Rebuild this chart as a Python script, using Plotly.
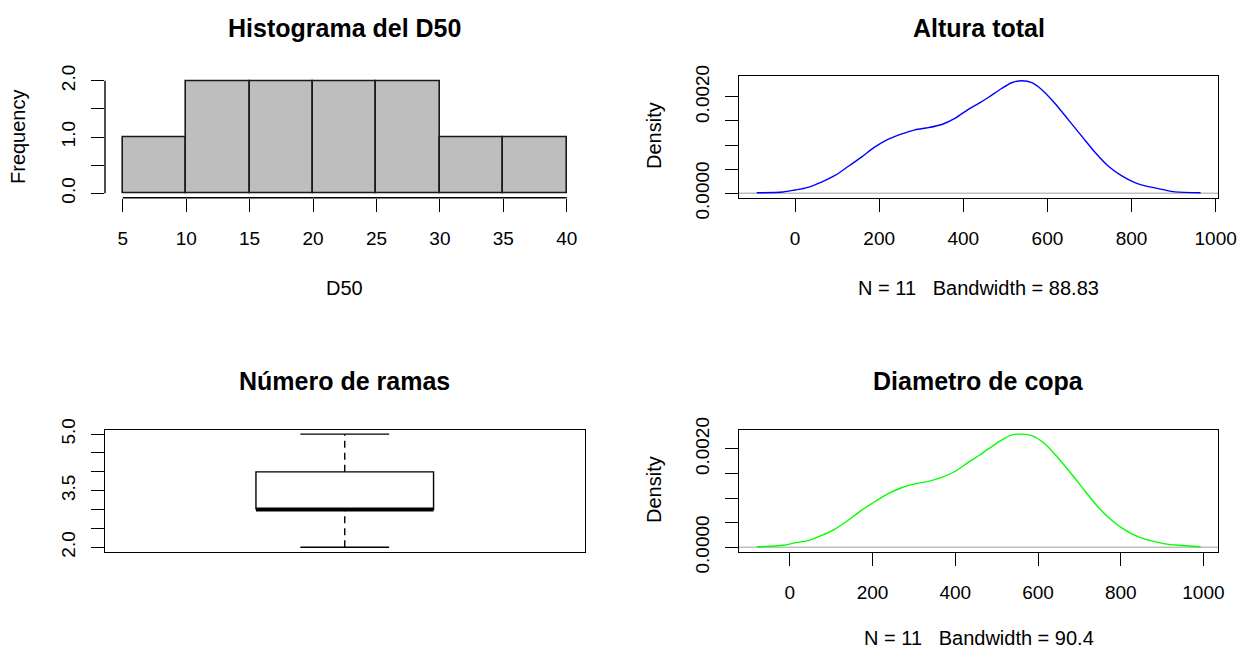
import plotly.graph_objects as go

W, H = 1251, 653

# ---- data -------------------------------------------------------------
# Histogram of D50
d50_breaks = [5, 10, 15, 20, 25, 30, 35, 40]
d50_counts = [1, 2, 2, 2, 2, 1, 1]

# Kernel density of "Altura total" (N = 11, bw = 88.83)
altura_x = [-91, -28, 0, 28, 63, 95, 127, 158, 190, 222, 254, 285, 317, 349,
            380, 412, 440, 460, 491, 515, 539, 563, 586, 618, 650, 682, 713,
            745, 777, 808, 840, 872, 903, 964]
altura_y = [0.00001, 0.000027, 0.000068, 0.000117, 0.000233, 0.00037, 0.00056,
            0.00075, 0.00096, 0.00112, 0.00123, 0.001315, 0.00136, 0.001425,
            0.00155, 0.00174, 0.00188, 0.00199, 0.00217, 0.00229, 0.00233,
            0.00229, 0.00215, 0.00186, 0.00152, 0.00118, 0.00085, 0.00056,
            0.00036, 0.00022, 0.000137, 0.000082, 0.00003, 0.00001]

# Kernel density of "Diametro de copa" (N = 11, bw = 90.4)
copa_x = [-80, -16, 12, 44, 77, 109, 141, 173, 206, 238, 270, 302, 335, 367,
          399, 432, 460, 480, 512, 536, 561, 585, 617, 649, 682, 714, 746,
          778, 811, 843, 875, 907, 940, 993]
copa_y = [0.00001, 0.00004, 0.00009, 0.000134, 0.00024, 0.00037, 0.00055,
          0.00075, 0.00093, 0.00109, 0.00121, 0.00129, 0.00134, 0.00142,
          0.00154, 0.00173, 0.00188, 0.00200, 0.00218, 0.00228, 0.00230,
          0.00227, 0.00210, 0.00181, 0.00148, 0.00114, 0.00081, 0.00055,
          0.00035, 0.00021, 0.00013, 0.00007, 0.00004, 0.00001]

# Boxplot statistics of "Número de ramas": min, Q1, median, Q3, max
ramas_stats = [2, 3, 3, 4, 5]

# ---- helpers ------------------------------------------------------------
FONT = "Liberation Sans, Arial, sans-serif"
INK = "#000000"
LW = 1.4
TICK_TXT = 19
LAB_TXT = 20


def r_range(lo, hi):
    """Axis range padded by 4% on each side (R's default 'r' style)."""
    pad = 0.04 * (hi - lo)
    return [lo - pad, hi + pad]


def xdom(left, right):
    return [left / W, right / W]


def ydom(top, bottom):
    return [1 - bottom / H, 1 - top / H]


# plot regions in pixels (left, right, top, bottom)
REG_L = (105, 584.5)
REG_R = (739, 1218.3)
ROW_T = (76.3, 197.8)
ROW_B = (429.6, 551.8)

fig = go.Figure()

# ---- histogram ------------------------------------------------------------
mids = [(a + b) / 2 for a, b in zip(d50_breaks[:-1], d50_breaks[1:])]
widths = [b - a for a, b in zip(d50_breaks[:-1], d50_breaks[1:])]
fig.add_trace(go.Bar(x=mids, y=d50_counts, width=widths,
                     marker=dict(color="#BEBEBE", line=dict(color="#1a1a1a", width=1.6)),
                     xaxis="x", yaxis="y", showlegend=False, hoverinfo="skip"))

# ---- density curves ---------------------------------------------------------
fig.add_trace(go.Scatter(x=altura_x, y=altura_y, mode="lines",
                         line=dict(color="#0000FF", width=1.4, shape="spline", smoothing=0.8),
                         xaxis="x2", yaxis="y2", showlegend=False, hoverinfo="skip"))
fig.add_trace(go.Scatter(x=copa_x, y=copa_y, mode="lines",
                         line=dict(color="#00FF00", width=1.4, shape="spline", smoothing=0.8),
                         xaxis="x4", yaxis="y4", showlegend=False, hoverinfo="skip"))

# ---- boxplot ------------------------------------------------------------------
lo, q1, med, q3, hi = ramas_stats
cx, half, cap = 1.0, 0.2, 0.1
fig.add_trace(go.Scatter(x=[cx - half, cx + half, cx + half, cx - half, cx - half],
                         y=[q1, q1, q3, q3, q1], mode="lines",
                         line=dict(color=INK, width=LW), xaxis="x3", yaxis="y3",
                         showlegend=False, hoverinfo="skip"))
fig.add_trace(go.Scatter(x=[cx - half, cx + half], y=[med, med], mode="lines",
                         line=dict(color=INK, width=4), xaxis="x3", yaxis="y3",
                         showlegend=False, hoverinfo="skip"))
for a, b in ((lo, q1), (q3, hi)):
    fig.add_trace(go.Scatter(x=[cx, cx], y=[a, b], mode="lines",
                             line=dict(color=INK, width=LW, dash="7px,5px"),
                             xaxis="x3", yaxis="y3", showlegend=False, hoverinfo="skip"))
for v in (lo, hi):
    fig.add_trace(go.Scatter(x=[cx - cap, cx + cap], y=[v, v], mode="lines",
                             line=dict(color=INK, width=LW), xaxis="x3", yaxis="y3",
                             showlegend=False, hoverinfo="skip"))

# ---- axes -----------------------------------------------------------------------
tickfont = dict(family=FONT, size=TICK_TXT, color=INK)
common = dict(ticks="outside", ticklen=13, tickwidth=LW, tickcolor=INK,
              tickfont=tickfont, showgrid=False, zeroline=False, fixedrange=True)
boxed = dict(showline=True, linecolor=INK, linewidth=LW, mirror=True)

hist_yv = [0, 0.5, 1.0, 1.5, 2.0]
dens_yv = [0, 0.0005, 0.001, 0.0015, 0.002]
box_yv = [2.0, 2.5, 3.0, 3.5, 4.0, 4.5, 5.0]
dens_xv = [0, 200, 400, 600, 800, 1000]

fig.update_layout(
    xaxis=dict(domain=xdom(*REG_L), range=r_range(d50_breaks[0], d50_breaks[-1]),
               anchor="y", tickvals=d50_breaks, ticklabelstandoff=10, showline=False, **common),
    yaxis=dict(domain=ydom(*ROW_T), range=r_range(0, max(d50_counts)), anchor="x",
               tickvals=hist_yv, ticktext=["0.0", "", "1.0", "", "2.0"],
               tickangle=-90, ticklabelstandoff=8, showline=False, **common),
    xaxis2=dict(domain=xdom(*REG_R), range=r_range(altura_x[0], altura_x[-1]),
                anchor="y2", tickvals=dens_xv, ticklabelstandoff=10, **boxed, **common),
    yaxis2=dict(domain=ydom(*ROW_T), range=r_range(0, max(altura_y)), anchor="x2",
                tickvals=dens_yv, ticktext=["0.0000", "", "", "", "0.0020"],
                tickangle=-90, ticklabelstandoff=8, **boxed, **common),
    xaxis3=dict(domain=xdom(*REG_L), range=r_range(0.5, 1.5), anchor="y3",
                showticklabels=False, ticks="", showgrid=False, zeroline=False,
                fixedrange=True, **boxed),
    yaxis3=dict(domain=ydom(*ROW_B), range=r_range(lo, hi), anchor="x3",
                tickvals=box_yv, ticktext=["2.0", "", "", "3.5", "", "", "5.0"],
                tickangle=-90, ticklabelstandoff=8, **boxed, **common),
    xaxis4=dict(domain=xdom(*REG_R), range=r_range(copa_x[0], copa_x[-1]),
                anchor="y4", tickvals=dens_xv, ticklabelstandoff=10, **boxed, **common),
    yaxis4=dict(domain=ydom(*ROW_B), range=r_range(0, max(copa_y)), anchor="x4",
                tickvals=dens_yv, ticktext=["0.0000", "", "", "", "0.0020"],
                tickangle=-90, ticklabelstandoff=8, **boxed, **common),
)

# detached axis lines of the histogram, spanning first to last tick only
fig.add_shape(type="line", xref="x", yref="y domain", x0=d50_breaks[0], x1=d50_breaks[-1],
              y0=0, y1=0, line=dict(color=INK, width=LW), layer="above")
fig.add_shape(type="line", xref="x domain", yref="y", x0=0, x1=0,
              y0=hist_yv[0], y1=hist_yv[-1], line=dict(color=INK, width=LW), layer="above")

# zero reference lines of the density plots
for xa, ya in (("x2", "y2"), ("x4", "y4")):
    fig.add_shape(type="line", xref=f"{xa} domain", yref=ya, x0=0, x1=1, y0=0, y1=0,
                  line=dict(color="#BEBEBE", width=LW), layer="below")


# ---- text -------------------------------------------------------------------------
def text(x, y, s, size=LAB_TXT, bold=False, angle=0):
    fig.add_annotation(x=x / W, y=1 - y / H, xref="paper", yref="paper", text=s,
                       showarrow=False, textangle=angle, xanchor="center", yanchor="middle",
                       font=dict(family=FONT, size=size, color=INK,
                                 weight="bold" if bold else "normal"))


cxL = (REG_L[0] + REG_L[1]) / 2
cxR = (REG_R[0] + REG_R[1]) / 2
text(cxL, 28, "Histograma del D50", size=25, bold=True)
text(cxR, 28, "Altura total", size=25, bold=True)
text(cxL, 381, "Número de ramas", size=25, bold=True)
text(cxR, 381, "Diametro de copa", size=25, bold=True)

text(cxL, 288, "D50")
text(18, 137, "Frequency", angle=-90)
text(cxR, 288, "N = 11   Bandwidth = 88.83")
text(654, 136, "Density", angle=-90)
text(cxR, 638, "N = 11   Bandwidth = 90.4")
text(654, 490, "Density", angle=-90)

# fixed page geometry: annotations near the edges must not push the margins
fig.update_layout(width=W, height=H,
                  margin=dict(l=0, r=0, t=0, b=0, pad=0, autoexpand=False),
                  paper_bgcolor="white", plot_bgcolor="white", bargap=0)

fig.write_html("out.html", config=dict(displayModeBar=False))
